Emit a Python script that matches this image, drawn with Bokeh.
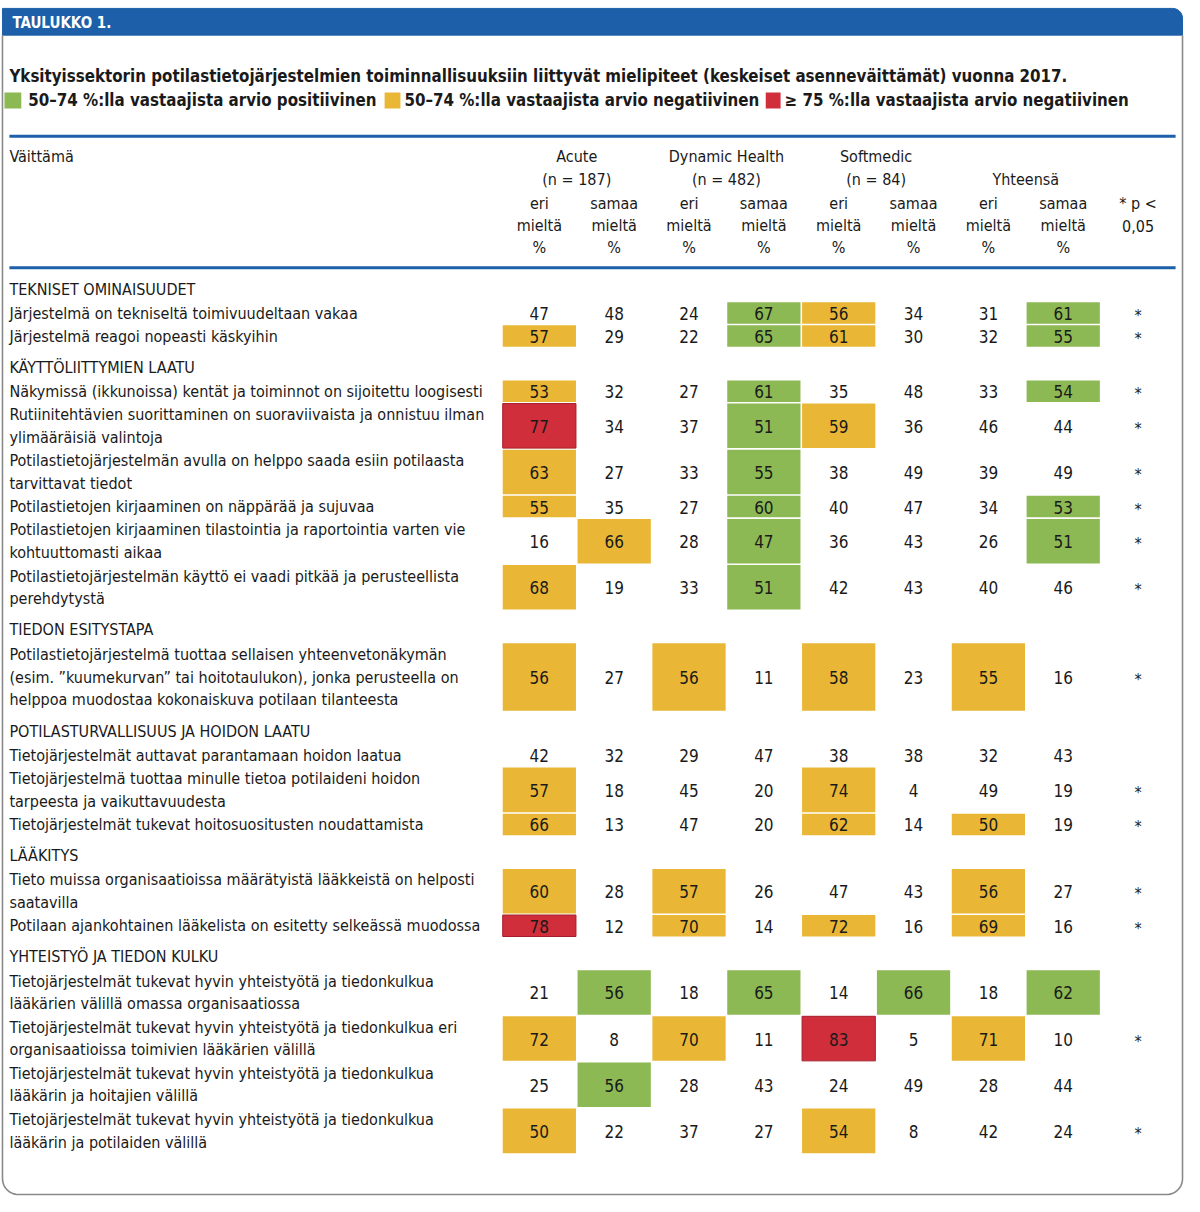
from bokeh.plotting import figure
from bokeh.models import Range1d, ColumnDataSource
from bokeh.core.properties import value
from bokeh.embed import file_html
from bokeh.resources import INLINE
import numpy as np

FONT = "'DejaVu Sans Condensed', 'DejaVu Sans', sans-serif"

# ---------------- data ----------------
table_label = "TAULUKKO 1."
title = "Yksityissektorin potilastietojärjestelmien toiminnallisuuksiin liittyvät mielipiteet (keskeiset asenneväittämät) vuonna 2017."
legend_labels = ["50–74 %:lla vastaajista arvio positiivinen",
                 "50–74 %:lla vastaajista arvio negatiivinen",
                 "≥ 75 %:lla vastaajista arvio negatiivinen"]
groups = ["Acute", "Dynamic Health", "Softmedic", "Yhteensä"]
group_n = ["(n = 187)", "(n = 482)", "(n = 84)", ""]
sub_headers = [["eri", "mieltä", "%"], ["samaa", "mieltä", "%"]]
p_header = ["* p <", "0,05"]

sections = ["TEKNISET OMINAISUUDET", "KÄYTTÖLIITTYMIEN LAATU", "TIEDON ESITYSTAPA",
            "POTILASTURVALLISUUS JA HOIDON LAATU", "LÄÄKITYS", "YHTEISTYÖ JA TIEDON KULKU"]

statements = [
    (0, ["Järjestelmä on tekniseltä toimivuudeltaan vakaa"]),
    (0, ["Järjestelmä reagoi nopeasti käskyihin"]),
    (1, ["Näkymissä (ikkunoissa) kentät ja toiminnot on sijoitettu loogisesti"]),
    (1, ["Rutiinitehtävien suorittaminen on suoraviivaista ja onnistuu ilman", "ylimääräisiä valintoja"]),
    (1, ["Potilastietojärjestelmän avulla on helppo saada esiin potilaasta", "tarvittavat tiedot"]),
    (1, ["Potilastietojen kirjaaminen on näppärää ja sujuvaa"]),
    (1, ["Potilastietojen kirjaaminen tilastointia ja raportointia varten vie", "kohtuuttomasti aikaa"]),
    (1, ["Potilastietojärjestelmän käyttö ei vaadi pitkää ja perusteellista", "perehdytystä"]),
    (2, ["Potilastietojärjestelmä tuottaa sellaisen yhteenvetonäkymän",
         "(esim. ”kuumekurvan” tai hoitotaulukon), jonka perusteella on",
         "helppoa muodostaa kokonaiskuva potilaan tilanteesta"]),
    (3, ["Tietojärjestelmät auttavat parantamaan hoidon laatua"]),
    (3, ["Tietojärjestelmä tuottaa minulle tietoa potilaideni hoidon", "tarpeesta ja vaikuttavuudesta"]),
    (3, ["Tietojärjestelmät tukevat hoitosuositusten noudattamista"]),
    (4, ["Tieto muissa organisaatioissa määrätyistä lääkkeistä on helposti", "saatavilla"]),
    (4, ["Potilaan ajankohtainen lääkelista on esitetty selkeässä muodossa"]),
    (5, ["Tietojärjestelmät tukevat hyvin yhteistyötä ja tiedonkulkua", "lääkärien välillä omassa organisaatiossa"]),
    (5, ["Tietojärjestelmät tukevat hyvin yhteistyötä ja tiedonkulkua eri", "organisaatioissa toimivien lääkärien välillä"]),
    (5, ["Tietojärjestelmät tukevat hyvin yhteistyötä ja tiedonkulkua", "lääkärin ja hoitajien välillä"]),
    (5, ["Tietojärjestelmät tukevat hyvin yhteistyötä ja tiedonkulkua", "lääkärin ja potilaiden välillä"]),
]

# columns: Acute eri, Acute samaa, DH eri, DH samaa, SM eri, SM samaa, Y eri, Y samaa
values = [
    [47, 48, 24, 67, 56, 34, 31, 61],
    [57, 29, 22, 65, 61, 30, 32, 55],
    [53, 32, 27, 61, 35, 48, 33, 54],
    [77, 34, 37, 51, 59, 36, 46, 44],
    [63, 27, 33, 55, 38, 49, 39, 49],
    [55, 35, 27, 60, 40, 47, 34, 53],
    [16, 66, 28, 47, 36, 43, 26, 51],
    [68, 19, 33, 51, 42, 43, 40, 46],
    [56, 27, 56, 11, 58, 23, 55, 16],
    [42, 32, 29, 47, 38, 38, 32, 43],
    [57, 18, 45, 20, 74, 4, 49, 19],
    [66, 13, 47, 20, 62, 14, 50, 19],
    [60, 28, 57, 26, 47, 43, 56, 27],
    [78, 12, 70, 14, 72, 16, 69, 16],
    [21, 56, 18, 65, 14, 66, 18, 62],
    [72, 8, 70, 11, 83, 5, 71, 10],
    [25, 56, 28, 43, 24, 49, 28, 44],
    [50, 22, 37, 27, 54, 8, 42, 24],
]
# cell class: g = positive 50-74, y = negative 50-74, r = negative >= 75
classes = [
    "---gy--g", "y--gy--g", "y--g---g", "r--gy---", "y--g----", "y--g---g",
    "-y-g---g", "y--g----", "y-y-y-y-", "--------", "y---y---", "y---y-y-",
    "y-y---y-", "r-y-y-y-", "-g-g-g-g", "y-y-r-y-", "-g------", "y---y---",
]
significant = [True, True, True, True, True, True, True, True, True, False, True, True,
               True, True, False, True, False, True]

# ---------------- styles ----------------
COL = {"g": "#8cb953", "y": "#e9b735", "r": "#cf2e3a"}
EDGE = {"g": None, "y": None, "r": "#a51f2b"}
BLUE = "#1d5fa8"
TXT = "#1a1a1a"

p = figure(width=1184, height=1196, x_range=Range1d(3, 1199), y_range=Range1d(1210, 2),
           output_backend="svg", toolbar_location=None, min_border=0)
p.axis.visible = False
p.grid.visible = False
p.outline_line_color = None
p.background_fill_color = "white"
p.border_fill_color = "white"

def txt(x, y, s, size, align="left", bold=False, color=TXT):
    p.text(x=[x], y=[y], text=[s], text_font=value(FONT), text_font_size=f"{size}px",
           text_align=align, text_baseline="middle", text_color=color,
           text_font_style="bold" if bold else "normal")

# header bar with rounded top-right corner
L, R, T, B, rad = 5, 1197, 10, 37, 10
ang = np.linspace(np.pi / 2, 0, 12)
bx = [L, L] + list(R - rad + rad * np.cos(ang)) + [R]
by = [B, T] + list(T + rad - rad * np.sin(ang)) + [B]
p.patch(bx, by, fill_color=BLUE, line_color=BLUE)
txt(15, 24.5, table_label, 15, bold=True, color="white")

# card border with rounded bottom corners
cb = 1208
r2 = 16
a1 = np.linspace(np.pi, np.pi / 2, 12)
a2 = np.linspace(np.pi / 2, 0, 12)
cx = [L] + list(L + r2 + r2 * np.cos(a1)) + list(R - r2 + r2 * np.cos(a2)) + [R]
cy = [B] + list(cb - r2 + r2 * np.sin(a1)) + list(cb - r2 + r2 * np.sin(a2)) + [B]
p.line(cx, cy, line_color="#8a8a8a", line_width=1.6)

# title & legend
TS = 16.8
txt(12, 78, title, TS, bold=True)
leg_sq = [(7, 24), (391, 407), (776, 791)]
leg_tx = [31, 411, 795]
for (x0, x1), tx, lab, c in zip(leg_sq, leg_tx, legend_labels, ["g", "y", "r"]):
    p.quad(left=[x0], right=[x1], top=[95], bottom=[111], fill_color=COL[c], line_color=None)
    txt(tx, 103, lab, TS, bold=True)

# rules
p.line([12, 1190], [139, 139], line_color=BLUE, line_width=3)
p.line([12, 1190], [272, 272], line_color=BLUE, line_width=3)

# column geometry
col_left = 509.5
col_w = 75.6
centers = [col_left + col_w * (i + 0.5) for i in range(9)]

# header texts
HS = 16
txt(12, 160, "Väittämä", HS)
for g in range(4):
    gx = (centers[2 * g] + centers[2 * g + 1]) / 2
    if group_n[g]:
        txt(gx, 160, groups[g], HS, align="center")
        txt(gx, 183, group_n[g], HS, align="center")
    else:
        txt(gx, 183, groups[g], HS, align="center")
    for k in range(2):
        for li, s in enumerate(sub_headers[k]):
            txt(centers[2 * g + k], 207 + li * 22.3, s, HS, align="center")
for li, s in enumerate(p_header):
    txt(centers[8], 207 + li * 22.3, s, HS, align="center")

# body layout
ROW_L = 23.3
LINE_P = 22.6
BS = 16
NS = 17
y = 272.0
cur_sec = -1
quads = {"g": [[], [], [], []], "y": [[], [], [], []], "r": [[], [], [], []]}
for i, (sec, lines) in enumerate(statements):
    if sec != cur_sec:
        gap = 34.0 if cur_sec == -1 else 32.4
        txt(12, y + gap - 12.6, sections[sec], BS)
        y += gap
        cur_sec = sec
    h = ROW_L * len(lines)
    mid = y + h / 2
    for li, s in enumerate(lines):
        ly = mid + (li - (len(lines) - 1) / 2) * LINE_P
        txt(12, ly, s, BS)
    for j in range(8):
        c = classes[i][j]
        if c != "-":
            q = quads[c]
            q[0].append(col_left + col_w * j + 0.8)
            q[1].append(col_left + col_w * (j + 1) - 0.8)
            q[2].append(y + 0.8)
            q[3].append(y + h - 0.8)
    for j in range(8):
        txt(centers[j], mid + 0.5, str(values[i][j]), NS, align="center")
    if significant[i]:
        txt(centers[8], mid + 2.5, "*", BS, align="center")
    y += h

for c, q in quads.items():
    src = ColumnDataSource(dict(left=q[0], right=q[1], top=q[2], bottom=q[3]))
    p.quad(left="left", right="right", top="top", bottom="bottom", fill_color=COL[c],
           line_color=EDGE[c], line_width=1, source=src, level="underlay")

open("out.html", "w").write(file_html(p, INLINE))
